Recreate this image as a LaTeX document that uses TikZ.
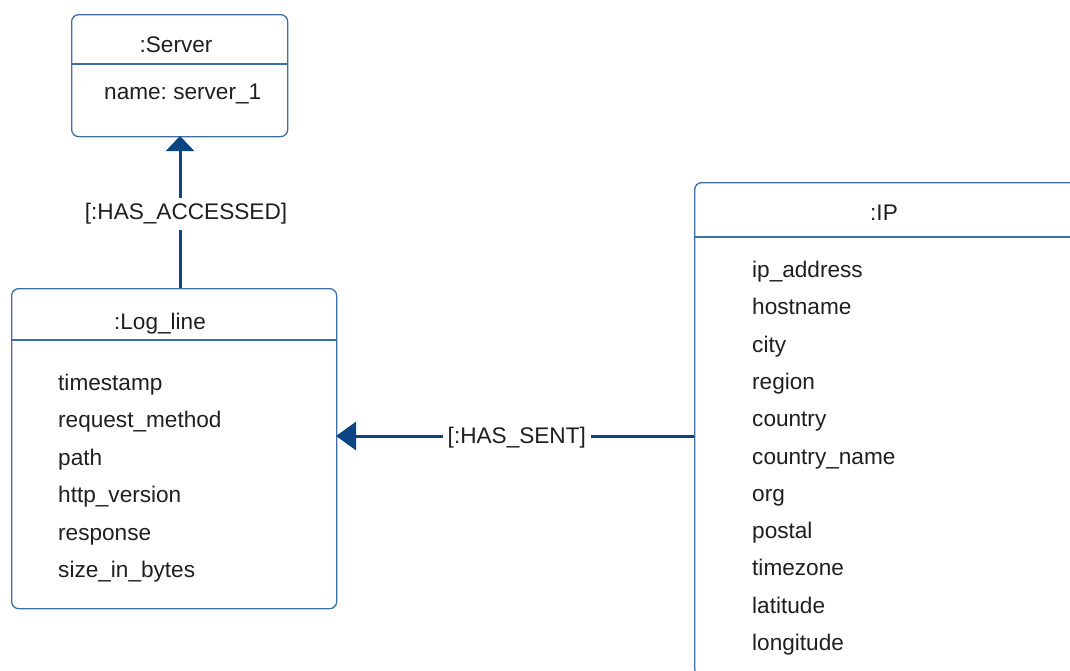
\documentclass[tikz,border=0pt]{standalone}
\usepackage{fontspec}
\setmainfont{Liberation Sans}
\usetikzlibrary{arrows.meta}
\definecolor{edgeblue}{HTML}{0B4584}
\definecolor{boxblue}{HTML}{3D6FA6}
\frenchspacing
\tikzset{
  umlbox/.style={draw=boxblue, line width=1.3pt, rounded corners=7pt, rectangle, inner sep=0pt, anchor=north west},
  divider/.style={draw=boxblue, line width=1.3pt},
  txt/.style={font=\fontsize{22.6pt}{25pt}\selectfont, text=black!88, inner sep=0pt, anchor=base west},
  ttl/.style={font=\fontsize{22.6pt}{25pt}\selectfont, text=black!88, inner sep=0pt, anchor=base},
  rel/.style={draw=edgeblue, line width=3pt},
  lbl/.style={font=\fontsize{22.6pt}{25pt}\selectfont, text=black!88, fill=white, inner sep=5pt}
}
\begin{document}
\begin{tikzpicture}[x=1pt,y=-1pt]
\useasboundingbox (0,0) rectangle (1070,670);
\clip (0,0) rectangle (1070,670);
% Server
\node[umlbox, minimum width=216pt, minimum height=122pt] (srv) at (71,14) {};
\draw[divider] (71,64) -- (287,64);
\node[ttl] (srvT) at (176,52) {:Server};
\node[txt] (srvA) at (104,99) {name: server\_1};
% Log_line
\node[umlbox, minimum width=325pt, minimum height=320pt] (log) at (11,288) {};
\draw[divider] (11,340) -- (336,340);
\node[ttl] (logT) at (160,329) {:Log\_line};
\foreach \t/\y [count=\i] in {timestamp/382, request\_method/419.5, path/457, http\_version/494.5, response/532, size\_in\_bytes/569}
  \node[txt] (logA\i) at (58,\y+8) {\t};
% IP
\node[umlbox, minimum width=420pt, minimum height=493pt] (ip) at (694,182) {};
\draw[divider] (694,237) -- (1114,237);
\node[ttl] (ipT) at (884,220) {:IP};
\foreach \t/\y [count=\i] in {ip\_address/269, hostname/306.5, city/344, region/381, country/418.5, country\_name/456, org/493, postal/530.5, timezone/567.5, latitude/605, longitude/642}
  \node[txt] (ipA\i) at (752,\y+8) {\t};
% connectors
\coordinate (srvB) at (180,136);
\coordinate (logTop) at (180,288);
\draw[rel, -{Triangle[width=28pt,length=15pt]}] (logTop) -- node[lbl, pos=0.5, xshift=6pt, yshift=-2pt] (accL) {[:HAS\_ACCESSED]} (srvB);
\coordinate (ipL) at (694,436);
\coordinate (logR) at (336,436);
\draw[rel, -{Triangle[width=28pt,length=20pt]}] (ipL) -- node[lbl, pos=0.495, yshift=-1.5pt] (sentL) {[:HAS\_SENT]} (logR);
\end{tikzpicture}
\end{document}
